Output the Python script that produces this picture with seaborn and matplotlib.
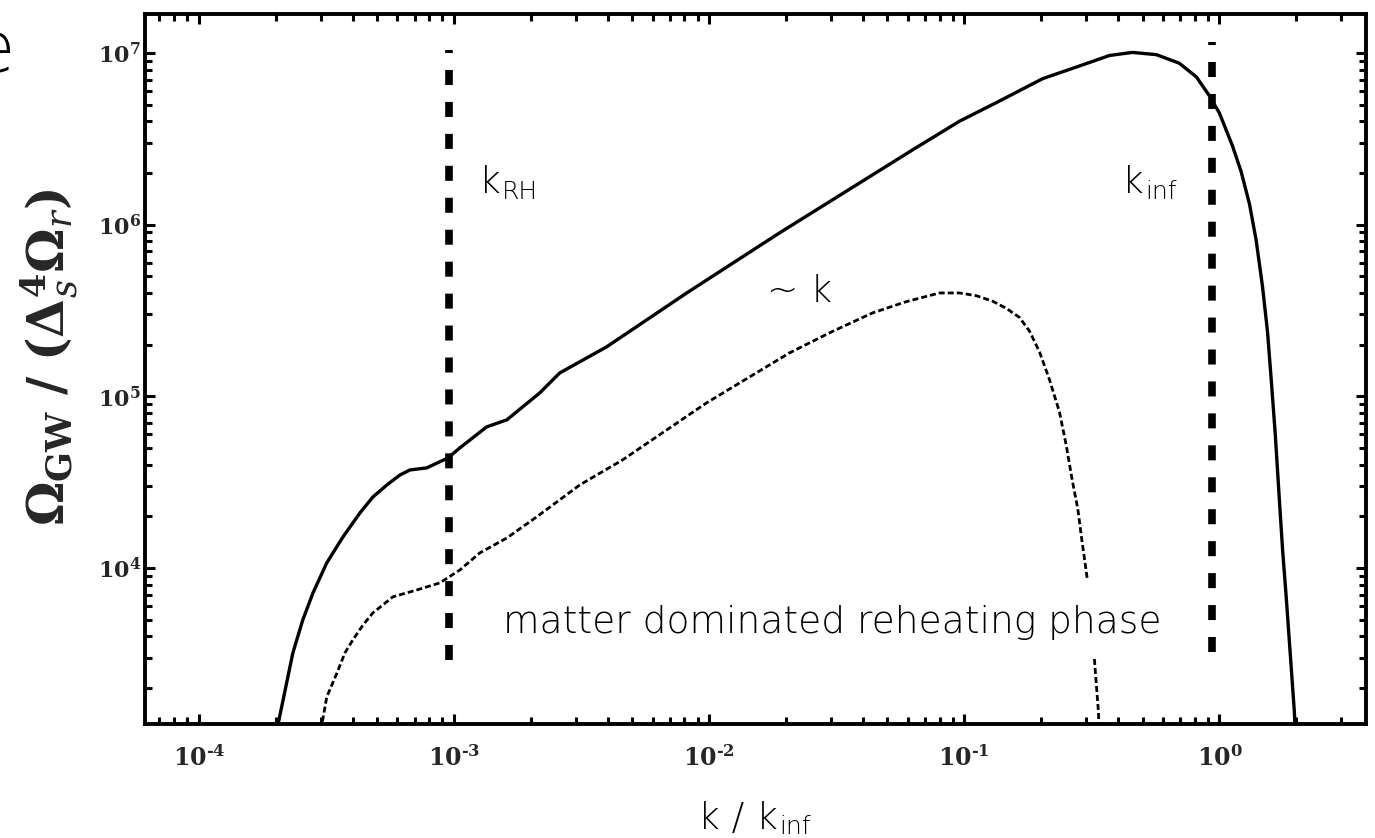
import numpy as np
import pandas as pd
import matplotlib
matplotlib.use("Agg")
import matplotlib.pyplot as plt
import matplotlib.ticker as mticker
import seaborn as sns

# ---------------- data (log10 values) ----------------
solid_log_k = [-3.72, -3.69, -3.632, -3.593, -3.553, -3.499, -3.436, -3.369,
               -3.318, -3.263, -3.212, -3.173, -3.107, -3.024, -2.977, -2.872,
               -2.793, -2.664, -2.586, -2.402, -2.088, -1.724, -1.203, -1.019,
               -0.862, -0.693, -0.537, -0.431, -0.341, -0.247, -0.157, -0.09,
               -0.039, 0.0, 0.051, 0.085, 0.118, 0.144, 0.169, 0.189,
               0.203, 0.219, 0.235, 0.248, 0.262, 0.294, 0.30]
solid_log_omega = [2.90, 3.09, 3.505, 3.698, 3.855, 4.03, 4.18, 4.321,
                   4.414, 4.484, 4.542, 4.571, 4.583, 4.641, 4.70, 4.822,
                   4.863, 5.02, 5.136, 5.288, 5.602, 5.952, 6.435, 6.602,
                   6.72, 6.85, 6.93, 6.985, 7.003, 6.99, 6.94, 6.86,
                   6.75, 6.65, 6.46, 6.31, 6.12, 5.91, 5.64, 5.37,
                   5.10, 4.78, 4.40, 4.10, 3.83, 3.16, 2.95]

dashed_upper_log_k = [-3.53, -3.518, -3.499, -3.459, -3.428, -3.397, -3.357,
                      -3.318, -3.279, -3.24, -3.146, -3.056, -2.977, -2.899,
                      -2.793, -2.676, -2.507, -2.339, -2.01, -1.685, -1.521,
                      -1.359, -1.228, -1.097, -1.019, -0.953, -0.889, -0.836,
                      -0.784, -0.744, -0.705, -0.666, -0.627, -0.601, -0.576,
                      -0.555, -0.541, -0.517]
dashed_upper_log_omega = [2.95, 3.09, 3.249, 3.389, 3.505, 3.581, 3.668,
                          3.739, 3.785, 3.832, 3.872, 3.913, 3.989, 4.088,
                          4.175, 4.298, 4.484, 4.63, 4.962, 5.253, 5.375,
                          5.486, 5.551, 5.602, 5.602, 5.586, 5.554, 5.513,
                          5.46, 5.379, 5.258, 5.097, 4.909, 4.72, 4.505,
                          4.344, 4.183, 3.927]
dashed_lower_log_k = [-0.49, -0.474, -0.47]
dashed_lower_log_omega = [3.47, 3.16, 2.95]

k_RH = 9.52e-4
k_INF = 0.935
vline_RH_span = (2.92e3, 1.04e7)
vline_INF_span = (3.02e3, 1.16e7)

x_limits = (10 ** -4.2116, 10 ** 0.5747)
y_limits = (10 ** 3.0913, 10 ** 7.227)

# ---------------- style ----------------
sns.set_style("ticks")
plt.rcParams["lines.scale_dashes"] = False
plt.rcParams["mathtext.fontset"] = "dejavuserif"
plt.rcParams["font.family"] = ["DejaVu Sans"]

fig = plt.figure(figsize=(13.75, 8.38), dpi=100)
ax = fig.add_axes([0.10545, 0.13604, 0.8880, 0.8473])

solid = pd.DataFrame({"k": 10 ** np.array(solid_log_k),
                      "omega": 10 ** np.array(solid_log_omega)})
dash_up = pd.DataFrame({"k": 10 ** np.array(dashed_upper_log_k),
                        "omega": 10 ** np.array(dashed_upper_log_omega)})
dash_lo = pd.DataFrame({"k": 10 ** np.array(dashed_lower_log_k),
                        "omega": 10 ** np.array(dashed_lower_log_omega)})

sns.lineplot(data=solid, x="k", y="omega", ax=ax, color="black",
             linewidth=2.4, sort=False, estimator=None)
for d in (dash_up, dash_lo):
    sns.lineplot(data=d, x="k", y="omega", ax=ax, color="black",
                 linewidth=2.0, sort=False, estimator=None,
                 linestyle=(0, (4.3, 2.2)))

for kv, (ylo, yhi) in ((k_RH, vline_RH_span), (k_INF, vline_INF_span)):
    ax.plot([kv, kv], [yhi, ylo], color="black", linewidth=5.5,
            linestyle=(8.6, (10.8, 12.2)), solid_capstyle="butt")

ax.set_xscale("log")
ax.set_yscale("log")
ax.set_xlim(*x_limits)
ax.set_ylim(*y_limits)
ax.set_xlabel("")
ax.set_ylabel("")


def dec_label(v, p):
    e = int(round(np.log10(v)))
    es = ("\u2010%d" % -e) if e < 0 else "%d" % e
    return r"$\mathbf{10^{%s}}$" % es


fmt = mticker.FuncFormatter(dec_label)
for axis in (ax.xaxis, ax.yaxis):
    axis.set_major_locator(mticker.LogLocator(base=10, numticks=20))
    axis.set_minor_locator(mticker.LogLocator(base=10, subs=np.arange(2, 10), numticks=20))
    axis.set_minor_formatter(mticker.NullFormatter())
    axis.set_major_formatter(fmt)

ax.tick_params(which="both", direction="in", top=True, right=True,
               color="black", width=2.2)
ax.tick_params(which="major", length=7.5)
ax.tick_params(which="minor", length=4.8)
ax.tick_params(axis="x", which="major", pad=15, labelsize=17)
ax.tick_params(axis="y", which="major", pad=3, labelsize=16)
for sp in ax.spines.values():
    sp.set_visible(True)
    sp.set_linewidth(2.8)
    sp.set_color("black")

# ---------------- annotations ----------------
main_fs = 27
sub_fs = 18
txt_kw = dict(color="black", fontweight="light", family=["DejaVu Sans"])

t = ax.text(1.25e-3, 1.53e6, "k", fontsize=main_fs, va="baseline", ha="left", **txt_kw)
ax.annotate("RH", xy=(1.0, 0.0), xycoords=t, xytext=(1, -3), textcoords="offset points",
            fontsize=sub_fs, va="bottom", ha="left", **txt_kw)
t = ax.text(0.417, 1.53e6, "k", fontsize=main_fs, va="baseline", ha="left", **txt_kw)
ax.annotate("inf", xy=(1.0, 0.0), xycoords=t, xytext=(1, -3), textcoords="offset points",
            fontsize=sub_fs, va="bottom", ha="left", **txt_kw)
ax.text(0.0168, 3.545e5, "~ k", fontsize=main_fs, va="baseline", ha="left", **txt_kw)
ax.text(1.552e-3, 4181, "matter dominated reheating phase", fontsize=main_fs,
        va="baseline", ha="left", **txt_kw)

t = fig.text(698 / 1375, (838 - 829) / 838, "k / k", fontsize=main_fs,
             va="baseline", ha="left", **txt_kw)
ax.annotate("inf", xy=(1.0, 0.0), xycoords=t, xytext=(1, -2), textcoords="offset points",
            fontsize=sub_fs, va="bottom", ha="left", annotation_clip=False, **txt_kw)

fig.text(50 / 1375, (838 - 357) / 838,
         r"$\mathbf{\Omega_{GW}\ /\ (\Delta_{\mathit{s}}^{4}\Omega_{\mathit{r}})}$",
         rotation=90, ha="center", va="center", fontsize=36)

# fragment of neighbouring text at the left edge
fig.text(15 / 1375, (838 - 72) / 838, "e", fontsize=52, ha="right", va="baseline", **txt_kw)

fig.savefig("out.png", dpi=100)
